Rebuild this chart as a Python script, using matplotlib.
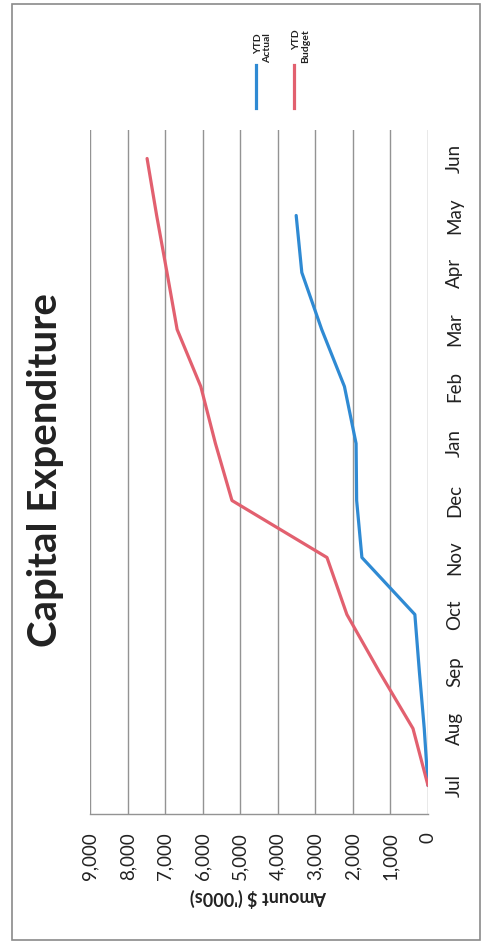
import matplotlib
matplotlib.use("Agg")
import matplotlib.pyplot as plt
from matplotlib.lines import Line2D
from matplotlib.patches import Rectangle

plt.rcParams['font.family'] = ['Lato', 'DejaVu Sans']

months = ['Jul', 'Aug', 'Sep', 'Oct', 'Nov', 'Dec', 'Jan', 'Feb', 'Mar', 'Apr', 'May', 'Jun']
ytd_actual = [0, 100, 230, 350, 1760, 1900, 1915, 2225, 2830, 3360, 3510]
ytd_budget = [0, 400, 1300, 2160, 2690, 5220, 5660, 6050, 6680, 6950, 7225, 7480]
value_ticks = [0, 1000, 2000, 3000, 4000, 5000, 6000, 7000, 8000, 9000]

blue = '#2f8ad3'
red = '#e2606f'

W, H = 493, 948
fig = plt.figure(figsize=(W / 100, H / 100), dpi=100)

# the page is scanned sideways: values run right to left, months bottom to top
ax = fig.add_axes([90 / W, 1 - 814 / H, 338 / W, 684 / H])
ax.plot(ytd_actual, range(len(ytd_actual)), color=blue, lw=2.3, solid_capstyle='round')
ax.plot(ytd_budget, range(len(ytd_budget)), color=red, lw=2.3, solid_capstyle='round')

ax.set_xlim(9000, 0)
ax.set_ylim(-0.5, len(months) - 0.5)
ax.set_xticks(value_ticks)
ax.set_xticklabels(['{:,}'.format(v) for v in value_ticks], rotation=90, fontsize=13.5, color='#222222')
ax.set_yticks(range(len(months)))
ax.set_yticklabels(months, rotation=90, va='center', fontsize=13.5, color='#222222')
ax.yaxis.tick_right()
ax.tick_params(axis='x', length=0, pad=13)
ax.tick_params(axis='y', length=0, pad=13)

ax.grid(axis='x', color='#939393', lw=1)
ax.set_axisbelow(True)
for s in ['top', 'left', 'right']:
    ax.spines[s].set_visible(False)
ax.spines['bottom'].set_color('#939393')
ax.spines['bottom'].set_linewidth(1)

ax.set_xlabel("Amount $ ('000s)", rotation=180, fontsize=13, fontweight='bold',
              color='#222222', labelpad=6)

fig.text(46 / W, 1 - 470 / H, 'Capital Expenditure', rotation=90, ha='center', va='center',
         fontsize=29, fontweight='bold', color='#222222')

# legend, turned with the page
for xp, col, lab in [(256, blue, 'YTD\nActual'), (294, red, 'YTD\nBudget')]:
    fig.add_artist(Line2D([xp / W, xp / W], [1 - 108 / H, 1 - 65 / H], color=col, lw=2.3,
                          transform=fig.transFigure))
    fig.text((xp + 7) / W, 1 - 63 / H, lab, rotation=90, ha='center', va='bottom',
             multialignment='right', fontsize=7.5, fontweight='bold', color='#222222',
             linespacing=1.1)

fig.add_artist(Rectangle((12 / W, 1 - 940 / H), 468 / W, 936 / H, transform=fig.transFigure,
                         fill=False, edgecolor='#8a8a8a', lw=1.2))

fig.savefig('out.png', dpi=100, facecolor='white')
